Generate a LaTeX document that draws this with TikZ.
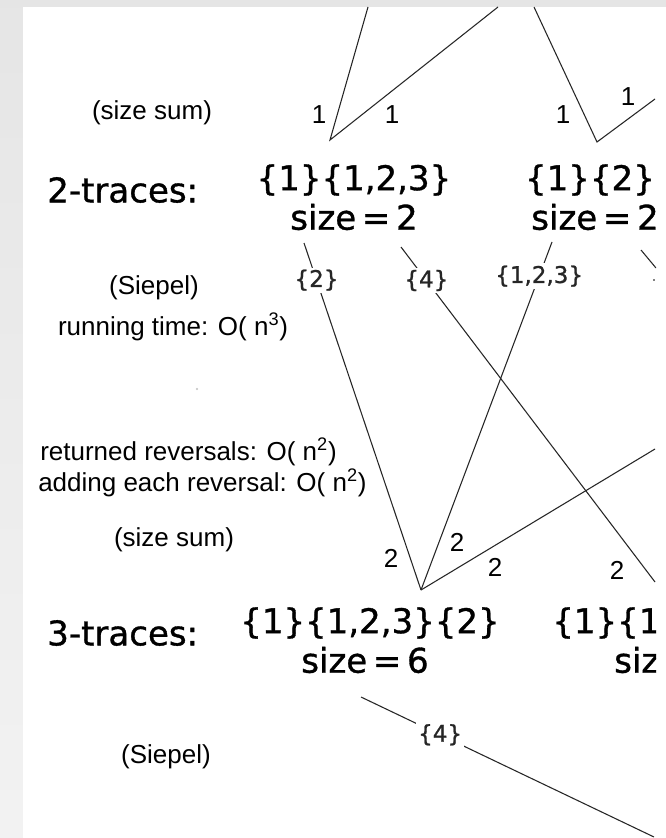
\documentclass[tikz,border=0pt]{standalone}
\usepackage{fontspec}
\setmainfont{Liberation Sans}
\newfontfamily\setfont[FakeBold=1]{DejaVu Sans}
\begin{document}
\begin{tikzpicture}[x=0.75pt,y=-0.75pt,
    note/.style={font=\fontsize{19.5}{23}\selectfont,inner sep=0pt},
    num/.style={font=\fontsize{19.5}{23}\selectfont,inner sep=0pt},
    trace/.style={font=\setfont\fontsize{25.5}{30}\selectfont,inner sep=0pt},
    lab/.style={font=\setfont\fontsize{17.25}{20}\selectfont,fill=white,inner sep=1.5pt},
    edge/.style={line width=0.8pt,black!85}]
    % frame
    \fill[black!10] (0,0) rectangle (666,838);
    \shade[top color=black!10,bottom color=black!5] (0,7) rectangle (23,838);
    \fill[white] (23,7) rectangle (666,838);
    \useasboundingbox (0,0) rectangle (666,838);
    \begin{scope}
    \clip (23,7) rectangle (656,838);
    % notes on the left
    \node[note] (sum2) at (152,113) {(size sum)};
    \node[note] (sie2) at (154,288) {(Siepel)};
    \node[note] (run2) at (173,327) {running time: O( n\textsuperscript{3})};
    \node[note,anchor=west] (ret) at (40,452) {returned reversals: O( n\textsuperscript{2})};
    \node[note,anchor=west] (add) at (38,483) {adding each reversal: O( n\textsuperscript{2})};
    \node[note] (sum3) at (174,540) {(size sum)};
    \node[note] (sie3) at (166,757) {(Siepel)};
    \fill[black!25] (197,389) circle (1.2);
    % traces
    \node[trace,anchor=west] (h2) at (47,190) {2-traces:};
    \node[trace,anchor=west] (h3) at (47,633) {3-traces:};
    \node[trace] (t2a) at (354,180) {\{1\}\{1,2,3\}};
    \node[trace] (t2as) at (354,217) {size\,=\,2};
    \node[trace] (t2b) at (590,180) {\{1\}\{2\}};
    \node[trace] (t2bs) at (595,217) {size\,=\,2};
    \node[trace] (t3a) at (370,623) {\{1\}\{1,2,3\}\{2\}};
    \node[trace] (t3as) at (365,660) {size\,=\,6};
    \node[trace,anchor=west] (t3b) at (552,623) {\{1\}\{1};
    \node[trace,anchor=west] (t3bs) at (614,660) {siz};
    % edges into the 2-traces
    \coordinate (a1) at (368,7);
    \coordinate (a2) at (498,7);
    \coordinate (a3) at (534,7);
    \coordinate (a4) at (655,99);
    \coordinate (v1) at (330,140);
    \coordinate (v2) at (597,142);
    \draw[edge] (a1) -- (v1) -- (a2);
    \draw[edge] (a3) -- (v2) -- (a4);
    \node[num] (n1) at (319,115) {1};
    \node[num] (n2) at (392,115) {1};
    \node[num] (n3) at (563,115) {1};
    \node[num] (n4) at (628,97) {1};
    % edges into the 3-traces
    \coordinate (s1) at (304,243);
    \coordinate (s2) at (401,247);
    \coordinate (s3) at (552,242);
    \coordinate (s4) at (641,250);
    \coordinate (v3) at (421,590);
    \coordinate (b2) at (655,582);
    \coordinate (b4) at (656,268);
    \coordinate (b5) at (655,449);
    \draw[edge] (s1) -- node[lab,pos=0.107] (r2) {\{2\}} (v3);
    \draw[edge] (s2) -- node[lab,pos=0.1] (r4) {\{4\}} (b2);
    \draw[edge] (s3) -- node[lab,pos=0.098] (r123) {\{1,2,3\}} (v3);
    \draw[edge] (s4) -- (b4);
    \fill (654,280) circle (0.9);
    \draw[edge] (v3) -- (b5);
    \node[num] (m1) at (391,558) {2};
    \node[num] (m2) at (457,542) {2};
    \node[num] (m3) at (495,567) {2};
    \node[num] (m4) at (617,570) {2};
    % edge out of the 3-trace
    \coordinate (s6) at (361,697);
    \coordinate (b6) at (654,837);
    \draw[edge] (s6) -- node[lab,pos=0.27] (r4b) {\{4\}} (b6);
    \end{scope}
\end{tikzpicture}
\end{document}
